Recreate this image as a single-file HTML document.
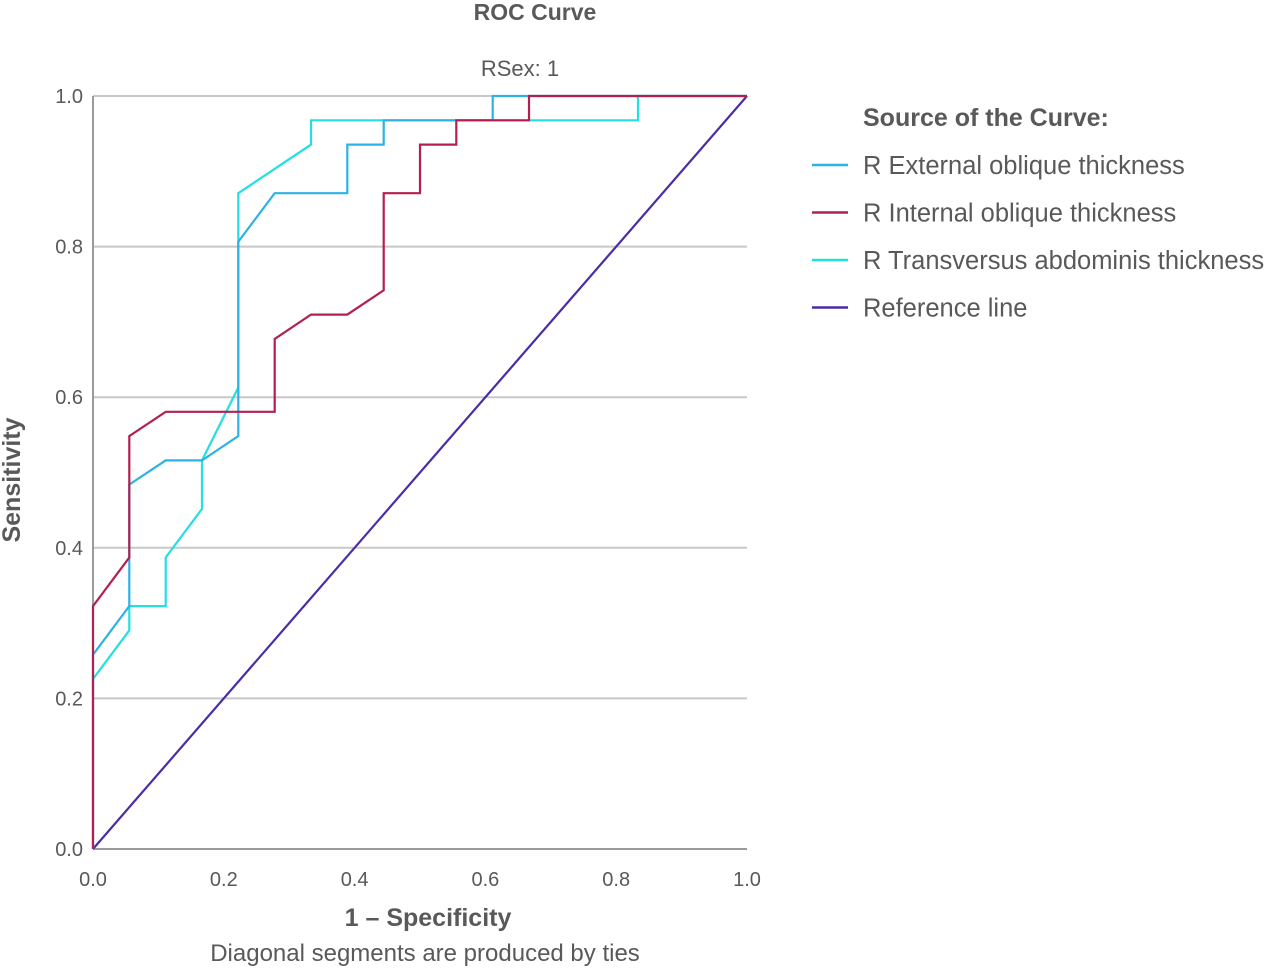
<!DOCTYPE html>
<html><head><meta charset="utf-8"><style>
body{margin:0;background:#fff;width:1280px;height:969px;overflow:hidden}
svg text{font-family:"Liberation Sans",sans-serif;fill:#595959}
</style></head><body>
<svg id="chart" width="1280" height="969" viewBox="0 0 1280 969" xmlns="http://www.w3.org/2000/svg">
<text x="535" y="20" text-anchor="middle" font-size="23" font-weight="bold">ROC Curve</text>
<text x="520" y="76" text-anchor="middle" font-size="22">RSex: 1</text>
<g id="grid"></g>
<g id="axes"></g>
<g id="series"></g>
<text x="428" y="926" text-anchor="middle" font-size="25" font-weight="bold">1 – Specificity</text>
<text x="425" y="961" text-anchor="middle" font-size="24">Diagonal segments are produced by ties</text>
<text transform="translate(20,480) rotate(-90)" text-anchor="middle" font-size="25" font-weight="bold">Sensitivity</text>
<g>
<text x="863" y="126" font-size="25" font-weight="bold">Source of the Curve:</text>
<g id="legend-items"></g>
</g>
</svg>
<script>
const ticks=[0,0.2,0.4,0.6,0.8,1.0];
const tickLabels=["0.0","0.2","0.4","0.6","0.8","1.0"];
const seriesNames=["R External oblique thickness","R Internal oblique thickness","R Transversus abdominis thickness","Reference line"];
const seriesColors=["#2eb2e6","#b3204f","#22e0e0","#4b2ca6"];
const extX=[0,0,1/18,1/18,2/18,3/18,4/18,4/18,5/18,7/18,7/18,8/18,8/18,11/18,11/18,1];
const extY=[0,8/31,10/31,15/31,16/31,16/31,17/31,25/31,27/31,27/31,29/31,29/31,30/31,30/31,1,1];
const intX=[0,0,1/18,1/18,2/18,5/18,5/18,6/18,7/18,8/18,8/18,9/18,9/18,10/18,10/18,12/18,12/18,1];
const intY=[0,10/31,12/31,17/31,18/31,18/31,21/31,22/31,22/31,23/31,27/31,27/31,29/31,29/31,30/31,30/31,1,1];
const traX=[0,0,1/18,1/18,2/18,2/18,3/18,3/18,4/18,4/18,6/18,6/18,15/18,15/18,1];
const traY=[0,7/31,9/31,10/31,10/31,12/31,14/31,16/31,19/31,27/31,29/31,30/31,30/31,1,1];
const refX=[0,1];
const refY=[0,1];
const NS="http://www.w3.org/2000/svg";
const X0=93,X1=747,Y0=849,Y1=96;
const sx=v=>X0+v*(X1-X0), sy=v=>Y0-v*(Y0-Y1);
function mk(t,a,p){const e=document.createElementNS(NS,t);for(const k in a)e.setAttribute(k,a[k]);p.appendChild(e);return e;}
const grid=document.getElementById('grid'),axes=document.getElementById('axes');
ticks.forEach((t,i)=>{
 if(t>0){const g=mk('line',{x1:X0,x2:X1,y1:sy(t),y2:sy(t),stroke:'#c8c8c8','stroke-width':2},grid);
 
 }
 const yl=mk('text',{x:83,y:sy(t)+7,'text-anchor':'end','font-size':20},axes);yl.textContent=tickLabels[i];
 
 
 const xl=mk('text',{x:sx(t),y:886,'text-anchor':'middle','font-size':20},axes);xl.textContent=tickLabels[i];
 
 
});
const ya=mk('line',{x1:X0,x2:X0,y1:Y1,y2:Y0,stroke:'#9a9a9a','stroke-width':2},axes);


const xa=mk('line',{x1:X0,x2:X1,y1:Y0,y2:Y0,stroke:'#9a9a9a','stroke-width':2},axes);


const ser=document.getElementById('series');
const data=[[refX,refY],[traX,traY],[extX,extY],[intX,intY]];
const order=[3,2,0,1];
const names=['reference-line','transversus-curve','external-oblique-curve','internal-oblique-curve'];
data.forEach((d,i)=>{
 const pts=d[0].map((x,j)=>sx(x).toFixed(1)+','+sy(d[1][j]).toFixed(1)).join(' ');
 const p=mk('polyline',{points:pts,fill:'none',stroke:seriesColors[order[i]],'stroke-width':2.2,'stroke-linejoin':'miter'},ser);
 
 
});
const li=document.getElementById('legend-items');
seriesNames.forEach((n,i)=>{
 const y=165+i*47.5;
 const l=mk('line',{x1:812,x2:848,y1:y,y2:y,stroke:seriesColors[i],'stroke-width':2.5},li);
 
 
 const t=mk('text',{x:863,y:y+9,'font-size':25.5},li);t.textContent=n;
 
 
});
</script>
</body></html>
